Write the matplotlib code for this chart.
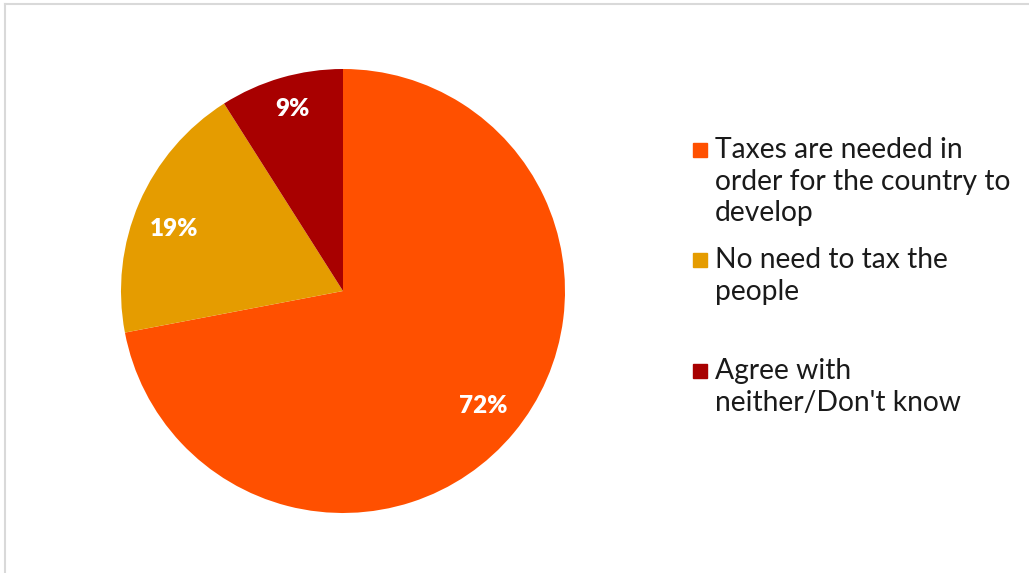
import matplotlib.pyplot as plt
from matplotlib.patches import Rectangle

# Respuestas sobre los impuestos
categorias = ["Taxes are needed in\norder for the country to\ndevelop",
              "No need to tax the\npeople",
              "Agree with\nneither/Don't know"]
porcentajes = [72, 19, 9]
colores = ["#FF5000", "#E59C00", "#A80000"]

plt.rcParams['font.family'] = ['Lato', 'DejaVu Sans']

fig = plt.figure(figsize=(10.29, 5.73), dpi=100)
ax = fig.add_axes([343 / 1029 - 222 / 1029, 1 - (291 + 222) / 573, 444 / 1029, 444 / 573])

wedges, textos = ax.pie(porcentajes, colors=colores, startangle=90, counterclock=False,
                        labels=None, labeldistance=None, radius=1,
                        wedgeprops=dict(linewidth=0))
ax.set_xlim(-1, 1)
ax.set_ylim(-1, 1)
ax.set_aspect('equal')

# etiquetas de porcentaje dentro de cada sector
pos_etiquetas = [(0.63, -0.52), (-0.76, 0.28), (-0.23, 0.82)]
for (x, y), p in zip(pos_etiquetas, porcentajes):
    ax.text(x, y, f"{p}%", color="white", fontsize=17.5, fontweight="heavy",
            ha="center", va="center")

# leyenda dibujada a mano
y_leyenda = [150, 260, 371]
for y, cat, c in zip(y_leyenda, categorias, colores):
    fig.patches.append(Rectangle((693 / 1029, 1 - (y + 7) / 573), 14 / 1029, 14 / 573,
                                 transform=fig.transFigure, color=c))
    fig.text(715 / 1029, 1 - (y - 13) / 573, cat, fontsize=20.3, color="#1a1a1a",
             ha="left", va="top", linespacing=1.27)

# marco gris claro
fig.add_artist(plt.Line2D([4.5 / 1029, 4.5 / 1029], [0, 1 - 3.5 / 573], color="#d9d9d9",
                          lw=1.5, transform=fig.transFigure))
fig.add_artist(plt.Line2D([4.5 / 1029, 1], [1 - 3.5 / 573, 1 - 3.5 / 573], color="#d9d9d9",
                          lw=1.5, transform=fig.transFigure))

plt.savefig("out.png", dpi=100)
